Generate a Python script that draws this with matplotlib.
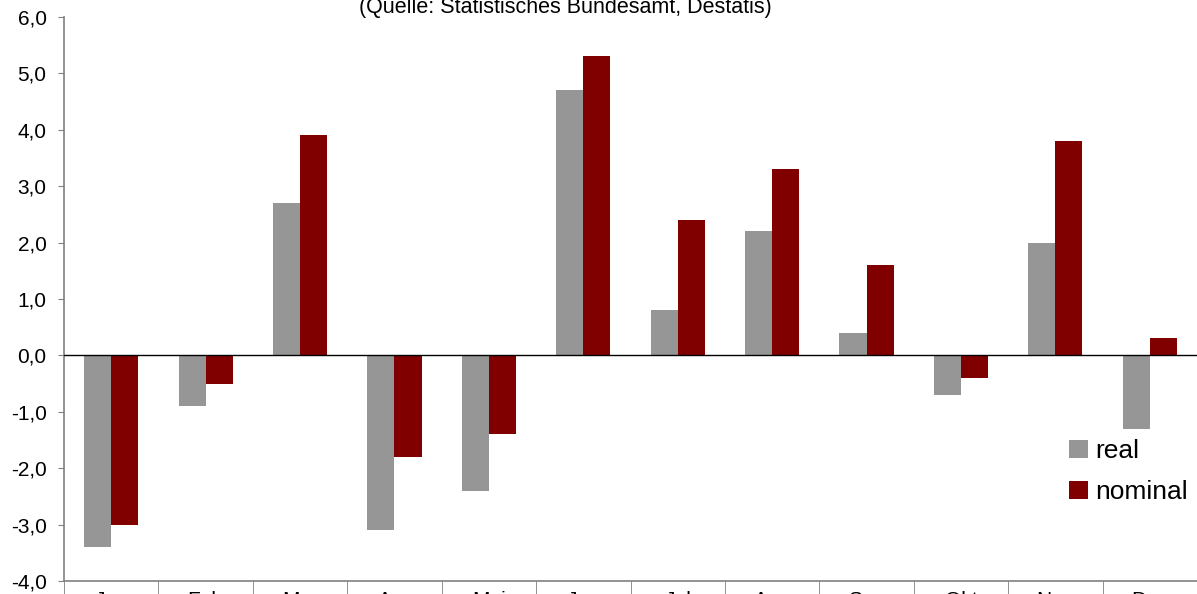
import numpy as np
import matplotlib.pyplot as plt
from matplotlib.ticker import FuncFormatter, FixedLocator

plt.rcParams['font.family'] = ['Liberation Sans', 'DejaVu Sans']

months = ['Jan', 'Feb', 'Mrz', 'Apr', 'Mai', 'Jun',
          'Jul', 'Aug', 'Sep', 'Okt', 'Nov', 'Dez']
real = [-3.4, -0.9, 2.7, -3.1, -2.4, 4.7, 0.8, 2.2, 0.4, -0.7, 2.0, -1.3]
nominal = [-3.0, -0.5, 3.9, -1.8, -1.4, 5.3, 2.4, 3.3, 1.6, -0.4, 3.8, 0.3]
y_ticks = [-4, -3, -2, -1, 0, 1, 2, 3, 4, 5, 6]

W, H = 1197, 594
fig = plt.figure(figsize=(W / 100, H / 100), dpi=100)
ax = fig.add_axes([64 / W, 1 - 581 / H, 1 - 64 / W, (581 - 17) / H])

x = np.arange(len(months))
w = 0.287
ax.bar(x - w / 2, real, w, color='#969696', label='real', zorder=2)
ax.bar(x + w / 2, nominal, w, color='#800000', label='nominal', zorder=2)
ax.axhline(0, color='black', lw=1, zorder=3)

ax.set_xlim(-0.5, len(months) - 0.5)
ax.set_ylim(-4, 6)
ax.set_yticks(y_ticks)
ax.yaxis.set_major_formatter(
    FuncFormatter(lambda v, p: f'{v:.1f}'.replace('.', ',')))
ax.tick_params(axis='y', direction='out', length=4.5, color='#808080',
               labelsize=15, pad=8)

# month labels sit below the -4 line, between the category separators
ax.set_xticks(x)
ax.set_xticklabels(months)
ax.xaxis.set_minor_locator(FixedLocator(np.arange(len(months) + 1) - 0.5))
ax.tick_params(axis='x', which='major', length=0, labelsize=15, pad=7)
ax.tick_params(axis='x', which='minor', direction='out', length=25,
               color='#808080')

for s in ['top', 'right']:
    ax.spines[s].set_visible(False)
for s in ['left', 'bottom']:
    ax.spines[s].set_color('#808080')
    ax.spines[s].set_linewidth(1.2)

fig.text(565 / W, 1 - 13 / H, '(Quelle: Statistisches Bundesamt, Destatis)',
         ha='center', va='baseline', fontsize=15.5)

ax.legend(loc='upper left',
          bbox_to_anchor=((1064 - 64) / (W - 64), 1 - (434 - 17) / 564),
          frameon=False, fontsize=19, handlelength=0.7, handleheight=0.7,
          handletextpad=0.3, labelspacing=0.65, borderaxespad=0,
          borderpad=0.2)

fig.savefig('out.png', dpi=100)
